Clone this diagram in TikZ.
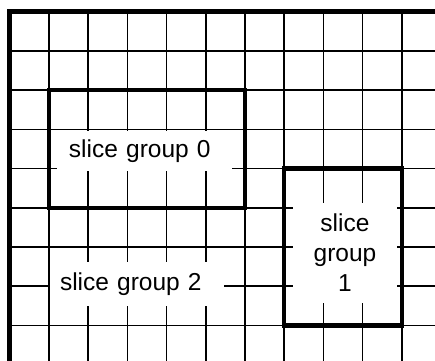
\documentclass[tikz,border=0pt]{standalone}
\usepackage{fontspec}
\setmainfont{Liberation Sans}
\usetikzlibrary{positioning}

\begin{document}
\begin{tikzpicture}[
    x=19.6pt, y=-19.6pt,
    gridline/.style={line width=0.8pt, black},
    border/.style={line width=2.4pt, black, line cap=rect},
    groupbox/.style={draw, line width=2.2pt, black},
    grouplabel/.style={fill=white, inner ysep=0pt, font=\fontsize{12.25pt}{15pt}\selectfont}
]
    % Page frame
    \useasboundingbox (-0.25,-0.301) rectangle (10.847,8.883);
    \clip (-0.25,-0.301) rectangle (10.847,8.883);

    % Grid of macroblocks
    \foreach \i in {1,...,10}
        \draw[gridline] (\i,0) -- (\i,9.5);
    \foreach \j in {1,...,8}
        \draw[gridline] (0,\j) -- (11.5,\j);

    % Labels (white background hides the grid)
    \node[grouplabel, inner xsep=6pt, text width=75.5pt, align=left, minimum height=20.2pt] (L0) at (3.436,3.545) {slice group 0};
    \node[grouplabel, inner xsep=5pt, text width=77pt, align=left, minimum height=22pt] (L2) at (3.245,6.944) {slice group 2};
    \node[grouplabel, inner xsep=0pt, text width=52pt, align=center, minimum height=50pt] (L1) at (8.551,6.153) {slice\\group\\1};

    % Slice group boxes
    \draw[groupbox] (1,2) rectangle (6,5);
    \draw[groupbox] (7,4) rectangle (10,8);

    % Outer border
    \draw[border] (0,9.5) -- (0,0) -- (11.5,0);
\end{tikzpicture}
\end{document}
